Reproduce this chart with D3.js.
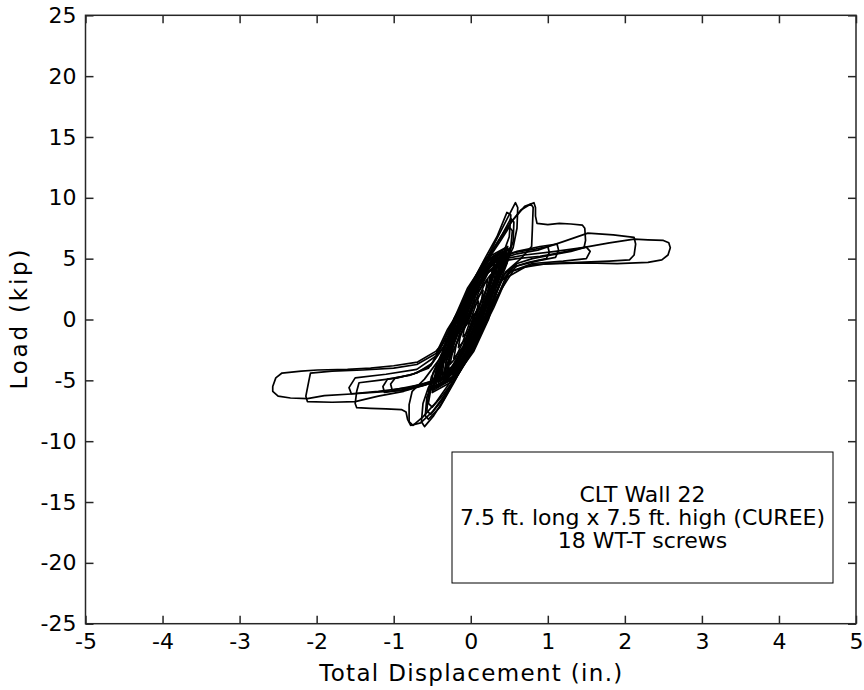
<!DOCTYPE html>
<html>
<head>
<meta charset="utf-8">
<script src="https://cdn.jsdelivr.net/npm/d3@7/dist/d3.min.js"></script>
<style>
    body { margin: 0; background: #fff; }
    svg { display: block; }
    .tick text { font-family: "DejaVu Sans", Verdana, sans-serif; font-size: 22px; fill: #000; }
    .tick line { stroke: #262626; stroke-width: 1.5; }
    .domain { display: none; }
    .label { font-family: "DejaVu Sans", Verdana, sans-serif; font-size: 23px; fill: #000; }
    .note { font-family: "DejaVu Sans", Verdana, sans-serif; font-size: 22px; fill: #000; }
</style>
</head>
<body>
<svg width="864" height="690"></svg>
<script>
// Axis ticks.
var xTicks = [-5, -4, -3, -2, -1, 0, 1, 2, 3, 4, 5];
var yTicks = [-25, -20, -15, -10, -5, 0, 5, 10, 15, 20, 25];

var xLabel = "Total Displacement (in.)";
var yLabel = "Load (kip)";
var noteLines = ["CLT Wall 22", "7.5 ft. long x 7.5 ft. high (CUREE)", "18 WT-T screws"];

// Load-displacement record: [displacement (in.), load (kip)].
// Small cycles that make up the dense core.
var core1 = [[-0.04,0],[0.02,0.9],[0.1,1.5],[0.09,1.0],[0.04,0],[-0.02,-0.9],[-0.1,-1.4],[-0.09,-0.9],[-0.04,0]];
var core2 = [[-0.06,0],[0.03,1.3],[0.16,2.4],[0.14,1.6],[0.06,0],[-0.03,-1.3],[-0.16,-2.3],[-0.14,-1.5],[-0.06,0]];
var core3 = [[-0.09,0],[0.03,1.8],[0.22,3.3],[0.19,2.2],[0.09,0],[-0.04,-1.8],[-0.22,-3.2],[-0.19,-2.1],[-0.09,0]];
var core4 = [[-0.11,0],[0.04,2.2],[0.17,3.6],[0.28,4.1],[0.25,2.8],[0.11,0],[-0.05,-2.2],[-0.18,-3.6],[-0.29,-4.1],[-0.26,-2.7],[-0.11,0]];
var core5 = [[-0.13,0],[0.02,2.3],[0.18,4.2],[0.34,4.9],[0.31,3.4],[0.22,1.8],[0.13,0],[-0.02,-2.2],[-0.2,-4.2],[-0.35,-4.9],[-0.32,-3.4],[-0.22,-1.8],[-0.13,0]];
var core6 = [[-0.15,0],[0.01,2.4],[0.19,4.6],[0.4,5.5],[0.37,4.0],[0.27,2.2],[0.15,0],[-0.01,-2.4],[-0.21,-4.6],[-0.42,-5.4],[-0.38,-3.9],[-0.27,-2.1],[-0.15,0]];
var core7 = [[-0.17,0],[0.0,2.5],[0.2,4.8],[0.46,5.9],[0.42,4.3],[0.3,2.4],[0.17,0],[-0.01,-2.5],[-0.22,-4.8],[-0.48,-5.8],[-0.44,-4.2],[-0.31,-2.3],[-0.17,0]];
var core8 = [[-0.12,0],[0.03,2.3],[0.16,4.0],[0.3,4.6],[0.27,3.3],[0.2,1.8],[0.12,0],[-0.03,-2.2],[-0.17,-4.0],[-0.31,-4.5],[-0.28,-3.2],[-0.2,-1.7],[-0.12,0]];
var core9 = [[-0.14,0],[0.02,2.4],[0.2,4.5],[0.36,5.1],[0.33,3.6],[0.24,1.9],[0.14,0],[-0.02,-2.3],[-0.21,-4.4],[-0.38,-5.0],[-0.35,-3.5],[-0.25,-1.9],[-0.14,0]];
var core10 = [[-0.18,0],[-0.02,2.3],[0.18,4.7],[0.42,5.6],[0.39,4.1],[0.3,2.4],[0.19,0],[0.02,-2.4],[-0.2,-4.7],[-0.45,-5.6],[-0.41,-4.0],[-0.31,-2.3],[-0.18,0]];
var core11 = [[-0.2,0],[-0.03,2.5],[0.19,5.0],[0.48,6.0],[0.44,4.5],[0.33,2.6],[0.21,0],[0.03,-2.5],[-0.21,-5.0],[-0.5,-6.0],[-0.46,-4.4],[-0.34,-2.5],[-0.2,0]];
var core12 = [[-0.22,0],[-0.04,2.6],[0.2,4.9],[0.5,5.8],[0.47,4.6],[0.36,2.8],[0.23,0],[0.04,-2.6],[-0.22,-4.9],[-0.52,-5.7],[-0.49,-4.4],[-0.37,-2.7],[-0.22,0]];
var core13 = [[-0.1,0],[0.04,2.1],[0.2,3.9],[0.38,5.2],[0.35,3.9],[0.22,1.9],[0.1,0],[-0.05,-2.0],[-0.22,-3.9],[-0.4,-5.1],[-0.37,-3.8],[-0.23,-1.9],[-0.1,0]];
var core14 = [[-0.16,0],[0.0,2.6],[0.15,4.4],[0.32,5.3],[0.3,4.2],[0.23,2.5],[0.16,0],[0.01,-2.5],[-0.16,-4.4],[-0.34,-5.2],[-0.32,-4.1],[-0.24,-2.4],[-0.16,0]];
var core15 = [[-0.13,0],[0.05,2.9],[0.24,4.9],[0.44,5.6],[0.4,4.4],[0.26,2.3],[0.12,0],[-0.05,-2.8],[-0.26,-4.9],[-0.47,-5.5],[-0.43,-4.3],[-0.27,-2.2],[-0.13,0]];
var core16 = [[-0.08,0],[0.06,2.2],[0.24,4.0],[0.38,4.6],[0.35,3.6],[0.2,1.6],[0.08,0],[-0.07,-2.2],[-0.26,-4.0],[-0.4,-4.6],[-0.37,-3.5],[-0.21,-1.5],[-0.08,0]];
var core17 = [[-0.02,0],[0.1,2.2],[0.22,3.8],[0.32,4.5],[0.3,3.6],[0.15,1.2],[0.02,0],[-0.1,-2.2],[-0.23,-3.8],[-0.34,-4.5],[-0.32,-3.5],[-0.16,-1.1],[-0.02,0]];
var core18 = [[-0.05,0],[0.08,2.3],[0.24,4.3],[0.4,5.2],[0.37,4.1],[0.2,1.5],[0.05,0],[-0.08,-2.3],[-0.26,-4.3],[-0.43,-5.1],[-0.4,-4.0],[-0.21,-1.4],[-0.05,0]];
var core19 = [[0,0],[0.1,1.8],[0.2,3.2],[0.26,3.7],[0.23,2.9],[0.1,0.9],[0,0],[-0.1,-1.8],[-0.2,-3.2],[-0.27,-3.7],[-0.24,-2.8],[-0.1,-0.8],[0,0]];
var core20 = [[-0.07,0],[0.07,2.5],[0.27,4.7],[0.45,5.5],[0.42,4.5],[0.25,2.0],[0.07,0],[-0.07,-2.5],[-0.28,-4.7],[-0.48,-5.6],[-0.45,-4.4],[-0.26,-1.9],[-0.07,0]];
var core21 = [[-0.03,0],[0.06,1.9],[0.16,3.6],[0.35,5.0],[0.32,4.2],[0.12,1.3],[0.03,0],[-0.07,-1.9],[-0.18,-3.6],[-0.37,-4.9],[-0.34,-4.1],[-0.13,-1.2],[-0.03,0]];
var core22 = [[-0.09,0],[0.06,2.6],[0.28,4.9],[0.52,5.9],[0.48,4.8],[0.28,2.3],[0.09,0],[-0.06,-2.6],[-0.3,-4.9],[-0.55,-5.9],[-0.51,-4.7],[-0.29,-2.2],[-0.09,0]];

// Peak cycles around 0.6 in.
var cycle06a = [[-0.17,0],[0.0,2.4],[0.18,4.6],[0.32,6.4],[0.45,8.0],[0.58,9.6],[0.61,9.2],[0.6,7.5],[0.55,5.9],[0.45,4.6],[0.32,2.8],[0.18,0],[0.0,-2.6],[-0.18,-4.6],[-0.35,-6.6],[-0.48,-7.9],[-0.6,-8.8],[-0.64,-8.4],[-0.62,-6.9],[-0.55,-5.6],[-0.42,-4.2],[-0.3,-2.5],[-0.18,0]];
var cycle06b = [[-0.18,0],[0.02,2.6],[0.22,5.0],[0.4,6.9],[0.52,8.3],[0.56,8.0],[0.55,6.4],[0.48,5.2],[0.36,3.6],[0.2,0.4],[0.0,-2.6],[-0.2,-4.9],[-0.38,-6.7],[-0.52,-7.8],[-0.57,-7.5],[-0.55,-6.2],[-0.46,-5.0],[-0.32,-3.0],[-0.2,0]];
var cycle06c = [[-0.18,0],[0.02,2.6],[0.22,4.9],[0.38,6.4],[0.5,7.6],[0.54,7.3],[0.52,6.0],[0.45,5.0],[0.33,3.4],[0.19,0.3],[0.0,-2.6],[-0.2,-4.8],[-0.36,-6.2],[-0.5,-7.2],[-0.55,-6.9],[-0.52,-5.8],[-0.44,-4.8],[-0.3,-2.8],[-0.18,0]];
var cycle06d = [[-0.2,0],[0.0,2.8],[0.2,5.2],[0.34,6.8],[0.47,8.8],[0.52,8.6],[0.5,6.8],[0.42,5.4],[0.3,3.8],[0.16,0.6],[-0.02,-2.8],[-0.22,-5.2],[-0.4,-7.2],[-0.55,-8.2],[-0.59,-7.9],[-0.57,-6.4],[-0.5,-5.2],[-0.35,-3.4],[-0.2,0]];
var cycle08 = [[-0.18,0],[0.02,2.7],[0.22,5.0],[0.45,7.4],[0.65,9.0],[0.78,9.5],[0.81,9.2],[0.8,7.5],[0.79,6.0],[0.65,5.0],[0.45,3.9],[0.22,0.6],[0.0,-2.7],[-0.25,-5.0],[-0.45,-6.8],[-0.62,-8.0],[-0.75,-8.7],[-0.8,-8.4],[-0.8,-7.0],[-0.76,-5.9],[-0.6,-4.9],[-0.4,-3.2],[-0.18,0]];

// Cycles to 1.5 in.
var cycle15 = [[-0.2,0],[0.0,2.7],[0.2,5.0],[0.38,6.6],[0.55,8.2],[0.7,9.3],[0.82,9.6],[0.84,9.2],[0.84,8.5],[0.86,7.9],[1.0,7.8],[1.15,7.9],[1.3,7.85],[1.45,7.75],[1.48,7.5],[1.49,6.5],[1.47,5.9],[1.3,5.6],[1.05,5.3],[0.8,5.0],[0.6,4.6],[0.42,3.6],[0.25,0.8],[0.05,-2.3],[-0.15,-4.4],[-0.35,-6.3],[-0.5,-7.6],[-0.65,-8.5],[-0.78,-8.7],[-0.82,-8.2],[-0.84,-7.6],[-0.9,-7.4],[-1.1,-7.35],[-1.3,-7.3],[-1.48,-7.25],[-1.5,-6.9],[-1.48,-5.9],[-1.45,-5.2],[-1.2,-5.0],[-0.95,-4.8],[-0.7,-4.4],[-0.5,-3.6],[-0.3,-1.8],[-0.2,0]];
var cycle15b = [[-0.2,0],[0.05,3.0],[0.3,4.8],[0.6,5.6],[0.9,6.0],[1.12,6.2],[1.14,5.7],[1.1,5.1],[0.85,4.8],[0.6,4.4],[0.4,3.2],[0.22,0.5],[0.0,-2.6],[-0.3,-4.6],[-0.6,-5.4],[-0.9,-5.8],[-1.12,-6.0],[-1.14,-5.5],[-1.08,-4.9],[-0.8,-4.6],[-0.55,-4.0],[-0.35,-2.2],[-0.2,0]];
var cycle15c = [[-0.22,0],[0.03,3.0],[0.28,4.9],[0.55,5.5],[0.85,5.8],[1.0,6.0],[1.02,5.5],[0.98,5.0],[0.75,4.7],[0.55,4.3],[0.38,3.0],[0.2,0.3],[-0.02,-2.7],[-0.32,-4.7],[-0.62,-5.3],[-0.85,-5.6],[-1.02,-5.8],[-1.04,-5.3],[-0.98,-4.8],[-0.75,-4.5],[-0.52,-3.8],[-0.36,-2.0],[-0.22,0]];

// Cycles to 2.1 in.
var cycle21 = [[-0.22,0],[0.05,3.1],[0.3,4.8],[0.6,5.4],[0.87,5.7],[1.2,6.4],[1.52,7.1],[1.85,6.95],[2.12,6.75],[2.14,6.2],[2.12,5.3],[2.06,4.9],[1.8,4.8],[1.4,4.7],[1.0,4.6],[0.7,4.3],[0.45,3.4],[0.25,0.5],[0.0,-2.8],[-0.3,-4.8],[-0.6,-5.4],[-0.87,-5.9],[-1.2,-6.3],[-1.5,-6.75],[-1.8,-6.8],[-2.12,-6.75],[-2.14,-6.3],[-2.1,-5.0],[-2.08,-4.4],[-1.8,-4.25],[-1.4,-4.15],[-1.0,-4.0],[-0.7,-3.7],[-0.45,-2.8],[-0.3,-0.8],[-0.22,0]];
var cycle21b = [[-0.22,0],[0.05,3.1],[0.35,4.9],[0.7,5.3],[1.1,5.6],[1.5,5.95],[1.55,5.6],[1.5,5.0],[1.2,4.8],[0.8,4.6],[0.5,3.9],[0.3,1.0],[0.0,-2.8],[-0.35,-4.8],[-0.8,-5.6],[-1.2,-5.9],[-1.55,-6.1],[-1.58,-5.6],[-1.5,-4.8],[-1.1,-4.5],[-0.7,-4.1],[-0.45,-3.0],[-0.22,0]];

// Last cycle to 2.55 in.
var cycle26 = [[-0.22,0],[0.05,3.0],[0.3,4.7],[0.6,5.0],[0.9,5.2],[1.17,5.5],[1.49,5.95],[1.8,6.3],[2.12,6.6],[2.3,6.55],[2.5,6.5],[2.57,6.3],[2.59,5.9],[2.56,5.3],[2.48,4.9],[2.3,4.7],[1.9,4.6],[1.5,4.65],[1.1,4.6],[0.8,4.5],[0.55,4.0],[0.35,2.0],[0.15,-0.5],[-0.1,-3.2],[-0.4,-5.0],[-0.85,-5.8],[-1.5,-6.1],[-1.9,-6.25],[-2.12,-6.5],[-2.34,-6.45],[-2.5,-6.3],[-2.57,-5.9],[-2.57,-5.5],[-2.53,-4.8],[-2.45,-4.4],[-2.2,-4.25],[-1.99,-4.15],[-1.6,-4.1],[-1.3,-4.0],[-1.0,-3.8],[-0.69,-3.5],[-0.45,-2.6],[-0.3,-1.5],[-0.1,0.0]];

var cycles = [core1, core2, core3, core4, core5, core6, core7, core8, core9, core10,
    core11, core12, core13, core14, core15, core16, core17, core18, core19, core20,
    core21, core22,
    cycle06a, cycle06b, cycle06c, cycle06d, cycle08,
    cycle15, cycle15b, cycle15c, cycle21, cycle21b, cycle26];

var svg = d3.select("svg");
var plotLeft = 85.5, plotRight = 856, plotTop = 15.3, plotBottom = 623.7;

var x = d3.scaleLinear().domain([-5, 5]).range([plotLeft, plotRight]);
var y = d3.scaleLinear().domain([-25, 25]).range([plotBottom, plotTop]);

// Hysteresis trace.
var line = d3.line()
    .x(function(d) { return x(d[0]); })
    .y(function(d) { return y(d[1]); });

svg.append("g")
    .selectAll("path")
    .data(cycles)
    .join("path")
    .attr("d", line)
    .attr("fill", "none")
    .attr("stroke", "#000")
    .attr("stroke-width", 1.7)
    .attr("stroke-linejoin", "round");

// Axes, ticks pointing inward on all four sides.
svg.append("g")
    .attr("transform", "translate(0," + plotBottom + ")")
    .call(d3.axisBottom(x).tickValues(xTicks).tickSizeInner(-8).tickSizeOuter(0).tickPadding(10).tickFormat(d3.format("d")));
svg.append("g")
    .attr("transform", "translate(0," + plotTop + ")")
    .call(d3.axisTop(x).tickValues(xTicks).tickSizeInner(-8).tickSizeOuter(0).tickFormat(""));
svg.append("g")
    .attr("transform", "translate(" + plotLeft + ",0)")
    .call(d3.axisLeft(y).tickValues(yTicks).tickSizeInner(-8).tickSizeOuter(0).tickPadding(9).tickFormat(d3.format("d")));
svg.append("g")
    .attr("transform", "translate(" + plotRight + ",0)")
    .call(d3.axisRight(y).tickValues(yTicks).tickSizeInner(-8).tickSizeOuter(0).tickFormat(""));

// Minus sign as a plain hyphen, like the original.
svg.selectAll(".tick text").text(function() { return d3.select(this).text().replace("\u2212", "-"); });

svg.append("rect")
    .attr("x", plotLeft).attr("y", plotTop)
    .attr("width", plotRight - plotLeft).attr("height", plotBottom - plotTop)
    .attr("fill", "none")
    .attr("stroke", "#262626")
    .attr("stroke-width", 1.5);

svg.append("text")
    .attr("class", "label")
    .attr("x", (plotLeft + plotRight) / 2)
    .attr("y", 681)
    .attr("text-anchor", "middle")
    .attr("textLength", 303)
    .attr("lengthAdjust", "spacing")
    .text(xLabel);

svg.append("text")
    .attr("class", "label")
    .attr("transform", "translate(27," + (plotTop + plotBottom) / 2 + ") rotate(-90)")
    .attr("text-anchor", "middle")
    .attr("textLength", 140)
    .attr("lengthAdjust", "spacing")
    .text(yLabel);

// Annotation box.
svg.append("rect")
    .attr("x", 452).attr("y", 452)
    .attr("width", 381).attr("height", 131)
    .attr("fill", "#fff")
    .attr("stroke", "#000")
    .attr("stroke-width", 1);

svg.append("g")
    .selectAll("text")
    .data(noteLines)
    .join("text")
    .attr("class", "note")
    .attr("x", 642.5)
    .attr("y", function(d, i) { return 501.5 + i * 23.3; })
    .attr("text-anchor", "middle")
    .text(function(d) { return d; });
</script>
</body>
</html>
